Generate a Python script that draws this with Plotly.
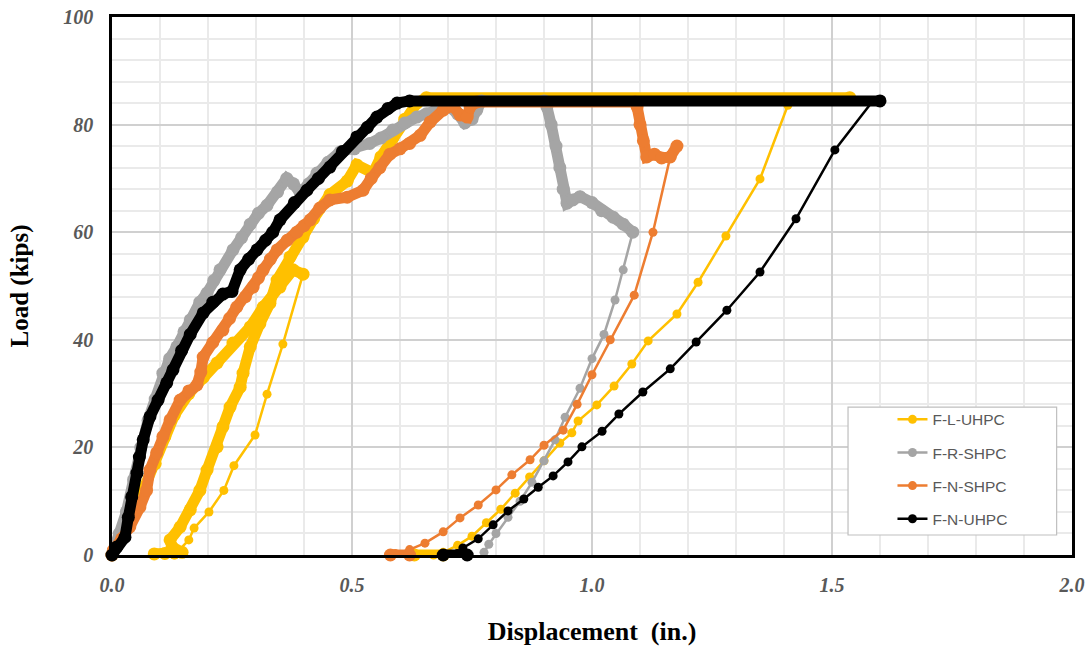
import plotly.graph_objects as go

# ---------------- F-L-UHPC ----------------
lu_load1_x = [0, 0.015, 0.035, 0.065, 0.09, 0.11, 0.13, 0.16, 0.19, 0.219, 0.252, 0.288, 0.315, 0.35, 0.377, 0.398]
lu_load1_y = [0, 2.5, 6, 12, 17, 22, 26, 30, 33, 35.7, 39.4, 42.4, 46.1, 49.8, 53, 52.2]
lu_unload1_x = [0.398, 0.356, 0.323, 0.298, 0.254, 0.233, 0.202, 0.171, 0.160, 0.14, 0.13]
lu_unload1_y = [52.2, 39.2, 29.9, 22.3, 16.6, 12.0, 8.0, 5.0, 2.8, 0.8, 0]
lu_load2_x = [0.088, 0.11, 0.13, 0.146, 0.125, 0.121, 0.142, 0.163, 0.183, 0.198, 0.219, 0.231, 0.246,
              0.267, 0.273, 0.288, 0.308, 0.329, 0.344, 0.371, 0.398, 0.42, 0.454, 0.49, 0.51, 0.544,
              0.56, 0.585, 0.61, 0.635, 0.655, 1.537]
lu_load2_y = [0.2, 0.3, 0.4, 0.5, 1.5, 2.8, 5.2, 8.4, 12, 15.8, 20.1, 23.8, 27.5,
              31.2, 33.8, 38.7, 43, 46.8, 51.1, 55.4, 59.1, 62.5, 67, 69.5, 72.5, 71,
              74, 77.5, 81, 84, 85, 85]
lu_unload2_x = [1.415, 1.408, 1.35, 1.279, 1.221, 1.177, 1.117, 1.083, 1.046, 1.01, 0.971, 0.958, 0.933,
                0.9, 0.87, 0.84, 0.81, 0.78, 0.75, 0.72, 0.69, 0.67]
lu_unload2_y = [85, 83.6, 69.9, 59.3, 50.7, 44.8, 39.8, 35.5, 31.4, 27.9, 24.9, 22.7, 20.8,
                17.5, 14.5, 11.5, 8.5, 6, 3.5, 1.8, 0.5, 0]
lu_rest_x = [0.63, 0.69]
lu_rest_y = [0, 0]

# ---------------- F-R-SHPC ----------------
rs_load_x = [0, 0.015, 0.03, 0.045, 0.06, 0.075, 0.09, 0.106, 0.12, 0.135, 0.15, 0.163, 0.183, 0.198,
             0.212, 0.225, 0.252, 0.27, 0.288, 0.305, 0.323, 0.345, 0.364, 0.378, 0.392, 0.41, 0.427,
             0.45, 0.475, 0.505, 0.537, 0.56, 0.585, 0.61, 0.635, 0.655, 0.677, 0.7, 0.72, 0.735,
             0.75, 0.76, 0.77, 0.9, 0.906, 0.915, 0.925, 0.933, 0.94, 0.948, 0.96, 0.975, 1.0,
             1.02, 1.044, 1.065, 1.085]
rs_load_y = [0, 4, 8, 14, 20, 25, 29, 33.8, 36.5, 38.7, 41.5, 43.7, 47, 48.7,
             51, 53, 56.7, 59, 61.5, 63.5, 65, 67.5, 70, 69, 67.3, 69, 71,
             73, 74.9, 75.5, 76.5, 77.5, 79, 80.3, 81.4, 82, 83, 83.5, 82, 80.3,
             81, 82.7, 84.4, 84.4, 83.3, 80, 76, 72, 68, 65.4, 66, 66.6, 65.5,
             64, 62.8, 61.5, 60]
rs_unload_x = [1.085, 1.065, 1.048, 1.025, 1.0, 0.975, 0.944, 0.923, 0.9, 0.875, 0.85, 0.825, 0.8, 0.785, 0.775]
rs_unload_y = [60, 53, 47.4, 41, 36.5, 31, 25.6, 21.4, 17.5, 13.5, 10, 7, 4, 2, 0.5]

# ---------------- F-N-SHPC ----------------
ns_load_x = [0, 0.003, 0.02, 0.037, 0.058, 0.072, 0.079, 0.093, 0.106, 0.121, 0.142, 0.16, 0.177, 0.185,
             0.19, 0.21, 0.231, 0.245, 0.26, 0.278, 0.294, 0.305, 0.315, 0.33, 0.344, 0.365, 0.385,
             0.4, 0.413, 0.433, 0.454, 0.49, 0.523, 0.54, 0.558, 0.579, 0.6, 0.62, 0.642, 0.663,
             0.69, 0.71, 0.725, 0.74, 0.746, 0.76, 1.09, 1.094, 1.1, 1.107, 1.114, 1.13, 1.145,
             1.163, 1.177]
ns_load_y = [0, 0.9, 3, 5.2, 8.9, 12, 15.8, 19, 22, 25.1, 28.8, 30.5, 31.6, 34,
             36.8, 39.5, 41.8, 44, 46.1, 48, 49.8, 51.5, 53, 55, 56.7, 58.5, 60,
             61.2, 62.3, 64.5, 66, 66.5, 67.8, 70, 72, 74.5, 75.5, 76.5, 78, 80.5,
             82.7, 83.5, 81.8, 81.4, 83.3, 84.2, 84.2, 83.3, 80, 77, 74, 74.5, 73.8,
             74, 76]
ns_unload_x = [1.163, 1.127, 1.088, 1.038, 1.0, 0.969, 0.94, 0.9, 0.871, 0.833, 0.8, 0.763, 0.725,
               0.69, 0.652, 0.62, 0.59]
ns_unload_y = [74, 60, 48.3, 40, 33.5, 28, 23.2, 20.4, 17.7, 14.9, 12.1, 9.3, 6.9,
               4.3, 2.2, 1, 0.3]
ns_rest_x = [0.58, 0.62]
ns_rest_y = [0, 0]

# ---------------- F-N-UHPC ----------------
nu_load_x = [0, 0.01, 0.027, 0.034, 0.041, 0.052, 0.057, 0.065, 0.079, 0.096, 0.114, 0.127, 0.145,
             0.163, 0.19, 0.21, 0.231, 0.25, 0.267, 0.285, 0.302, 0.32, 0.335, 0.35, 0.38, 0.406,
             0.43, 0.454, 0.48, 0.51, 0.532, 0.552, 0.575, 0.594, 0.62, 1.60]
nu_load_y = [0, 1.5, 3.3, 7, 10.8, 15.2, 18.2, 21.4, 25.7, 28.8, 32, 34.4, 38,
             41, 45, 47, 48.5, 49, 53, 55, 56.7, 58.5, 60, 62.3, 65.5, 67.8,
             70, 72.1, 75, 77.7, 79.5, 81.4, 83, 84, 84.4, 84.4]
nu_unload_x = [1.585, 1.506, 1.425, 1.35, 1.281, 1.217, 1.163, 1.106, 1.056, 1.021, 0.979, 0.95,
               0.919, 0.888, 0.858, 0.825, 0.794, 0.763, 0.731, 0.72]
nu_unload_y = [84.4, 75.3, 62.5, 52.6, 45.5, 39.6, 34.6, 30.3, 26.2, 23, 20.1, 17.3,
               14.7, 12.6, 10.4, 8.2, 5.6, 3, 1.3, 0.3]
nu_rest_x = [0.69, 0.74]
nu_rest_y = [0, 0]

x_ticks = [0.0, 0.5, 1.0, 1.5, 2.0]
y_ticks = [0, 20, 40, 60, 80, 100]

series = [
    ("F-L-UHPC", "#FFC000",
     [(lu_load1_x, lu_load1_y), (lu_load2_x, lu_load2_y), (lu_rest_x, lu_rest_y)],
     [(lu_unload1_x, lu_unload1_y), (lu_unload2_x, lu_unload2_y)]),
    ("F-R-SHPC", "#A5A5A5",
     [(rs_load_x, rs_load_y)],
     [(rs_unload_x, rs_unload_y)]),
    ("F-N-SHPC", "#ED7D31",
     [(ns_load_x, ns_load_y), (ns_rest_x, ns_rest_y)],
     [(ns_unload_x, ns_unload_y)]),
    ("F-N-UHPC", "#000000",
     [(nu_load_x, nu_load_y), (nu_rest_x, nu_rest_y)],
     [(nu_unload_x, nu_unload_y)]),
]

fig = go.Figure()
for name, color, dense, sparse in series:
    # densely sampled stretches: heavy band of overlapping markers
    for xs, ys in dense:
        fig.add_trace(go.Scatter(
            x=xs, y=ys, mode="lines+markers", name=name, legendgroup=name,
            showlegend=False, cliponaxis=False,
            line=dict(color=color, width=11),
            marker=dict(color=color, size=13, line=dict(width=0)),
            hoverinfo="skip"))
    # sparse readings on the unloading branches
    for i, (xs, ys) in enumerate(sparse):
        fig.add_trace(go.Scatter(
            x=xs, y=ys, mode="lines+markers", name=name, legendgroup=name,
            showlegend=(i == len(sparse) - 1), cliponaxis=False,
            line=dict(color=color, width=2.5),
            marker=dict(color=color, size=9, line=dict(width=0))))

serif = "Liberation Serif, Times New Roman, serif"

fig.update_layout(
    width=1089, height=649,
    margin=dict(l=112, r=17, t=17, b=94),
    paper_bgcolor="white", plot_bgcolor="white",
    showlegend=True,
    legend=dict(
        x=0.813, y=0.283, xanchor="left", yanchor="top",
        bgcolor="rgba(0,0,0,0)", borderwidth=0,
        font=dict(family="Liberation Sans, Arial, sans-serif", size=15.5, color="#595959"),
        traceorder="grouped", tracegroupgap=10, itemwidth=30,
    ),
    shapes=[dict(type="rect", xref="paper", yref="paper",
                 x0=0.7667, x1=0.984, y0=0.0372, y1=0.275,
                 fillcolor="white", line=dict(color="#BFBFBF", width=1.2),
                 layer="above")],
    xaxis=dict(
        range=[0, 2], tickvals=x_ticks, tickformat=".1f", automargin=False,
        showgrid=True, gridcolor="#D0D0D0", gridwidth=1.5,
        minor=dict(dtick=0.1, showgrid=True, gridcolor="#EAEAEA", gridwidth=1.5),
        showline=True, linecolor="black", linewidth=2.5, mirror=True,
        zeroline=False, ticks="outside", ticklen=10, tickcolor="rgba(0,0,0,0)",
        tickfont=dict(family=serif, size=20, color="#595959", weight="bold", style="italic"),
        title=dict(text="Displacement  (in.)", standoff=28,
                   font=dict(family=serif, size=26, color="black", weight="bold")),
    ),
    yaxis=dict(
        range=[0, 100], tickvals=y_ticks, automargin=False,
        showgrid=True, gridcolor="#D0D0D0", gridwidth=1.5,
        minor=dict(dtick=4, showgrid=True, gridcolor="#EAEAEA", gridwidth=1.5),
        showline=True, linecolor="black", linewidth=2.5, mirror=True,
        zeroline=False, ticks="outside", ticklen=12, tickcolor="rgba(0,0,0,0)",
        tickfont=dict(family=serif, size=20, color="#595959", weight="bold", style="italic"),
        title=dict(text="Load (kips)", standoff=28,
                   font=dict(family=serif, size=25, color="black", weight="bold")),
    ),
)

fig.write_html("out.html")
